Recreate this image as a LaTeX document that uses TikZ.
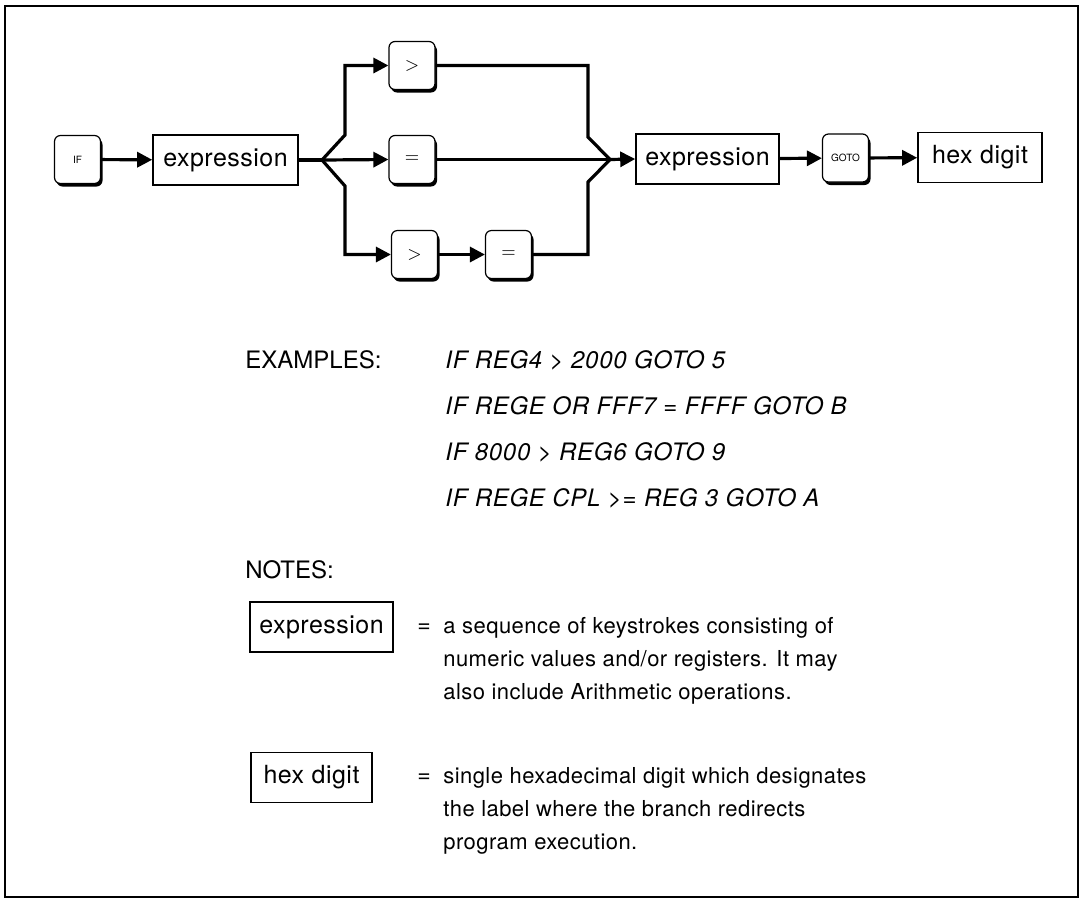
\documentclass[tikz,border=0pt]{standalone}
\usepackage{fontspec}
\setmainfont{TeX Gyre Heros}
\usetikzlibrary{arrows.meta,shadows}
\begin{document}
\begin{tikzpicture}[x=0.5pt,y=-0.5pt,
  conn/.style={line width=1.6pt},
  arr/.style={conn,-{Triangle[length=7.5pt,width=7.5pt]}},
  keybox/.style={draw,fill=white,rounded corners=3pt,line width=0.6pt,
    minimum width=23pt,minimum height=24pt,inner sep=0pt,
    drop shadow={opacity=1,fill=black,shadow xshift=1pt,shadow yshift=-1.5pt}},
  keysym/.style={keybox,font=\fontsize{9}{9}\selectfont},
  keyword/.style={keybox,font=\fontsize{5}{5}\selectfont},
  synbox/.style={draw,line width=0.8pt,inner sep=0pt,minimum height=25pt,
    font=\fontsize{12.5}{14}\selectfont\addfontfeatures{LetterSpace=2}},
  head/.style={anchor=base west,inner sep=0pt,font=\fontsize{12}{14}\selectfont},
  example/.style={anchor=base west,inner sep=0pt,
    font=\fontsize{12}{14}\selectfont\itshape\addfontfeatures{LetterSpace=3}},
  notetext/.style={anchor=base west,inner sep=0pt,
    font=\fontsize{11}{13}\selectfont\addfontfeatures{LetterSpace=2}},
  eqsign/.style={inner sep=0pt,font=\fontsize{11.5}{12}\selectfont}
]
\useasboundingbox (0,0) rectangle (1082,901);
\draw[line width=1pt] (5,6) rectangle (1078,897);

% top syntax diagram
\node[keyword] (if) at (77.5,159.5) {IF};
\node[synbox,minimum width=72.5pt] (ex1) at (225.5,160) {expression};
\node[keysym] (gt1) at (412,65.5) {$>$};
\node[keysym] (eq1) at (412,159.5) {$=$};
\node[keysym] (gt2) at (414.5,254.5) {$>$};
\node[keysym] (eq2) at (508.5,254.5) {$=$};
\node[synbox,minimum width=71.5pt] (ex2) at (707.5,159) {expression};
\node[keyword] (goto) at (845.5,158) {GOTO};
\node[synbox,minimum width=62pt] (hex) at (980,157.5) {hex digit};

\coordinate (fork) at (322,160);
\coordinate (fu) at (345,135);
\coordinate (fd) at (345,186);
\coordinate (mu) at (588,137);
\coordinate (md) at (588,182);
\coordinate (join) at (610,159.5);

\draw[arr] (if) -- (ex1);
\draw[conn] (ex1.east) -- (fork);
\draw[arr] (fork) -- (fu) |- (gt1.west);
\draw[arr] (fork) -- (eq1.west);
\draw[arr] (fork) -- (fd) |- (gt2.west);
\draw[arr] (gt2) -- (eq2);
\draw[conn] (gt1.east) -| (mu) -- (join);
\draw[conn] (eq1.east) -- (join);
\draw[conn] (eq2.east) -| (md) -- (join);
\draw[arr] (join) -- (ex2.west);
\draw[arr] (ex2) -- (goto);
\draw[arr] (goto) -- (hex);

% examples
\node[head] (exl) at (245,368.5) {EXAMPLES:};
\node[example] (e1) at (445,368.5) {IF REG4 > 2000 GOTO 5};
\node[example] (e2) at (445,414.5) {IF REGE OR FFF7 = FFFF GOTO B};
\node[example] (e3) at (445,460.5) {IF 8000 > REG6 GOTO 9};
\node[example] (e4) at (445,506) {IF REGE CPL >= REG 3 GOTO A};

% notes
\node[head] (notes) at (245,578.5) {NOTES:};
\node[synbox,minimum width=71.5pt] (nex) at (321.5,627) {expression};
\node[eqsign] (neq1) at (424,628) {=};
\node[notetext] (nt1a) at (443,633) {a sequence of keystrokes consisting of};
\node[notetext] (nt1b) at (443,666) {numeric values and/or registers. It may};
\node[notetext] (nt1c) at (443,699) {also include Arithmetic operations.};
\node[synbox,minimum width=60.5pt] (nhex) at (311.5,777.5) {hex digit};
\node[eqsign] (neq2) at (424,778) {=};
\node[notetext] (nt2a) at (443,783) {single hexadecimal digit which designates};
\node[notetext] (nt2b) at (443,816) {the label where the branch redirects};
\node[notetext] (nt2c) at (443,849) {program execution.};
\end{tikzpicture}
\end{document}
